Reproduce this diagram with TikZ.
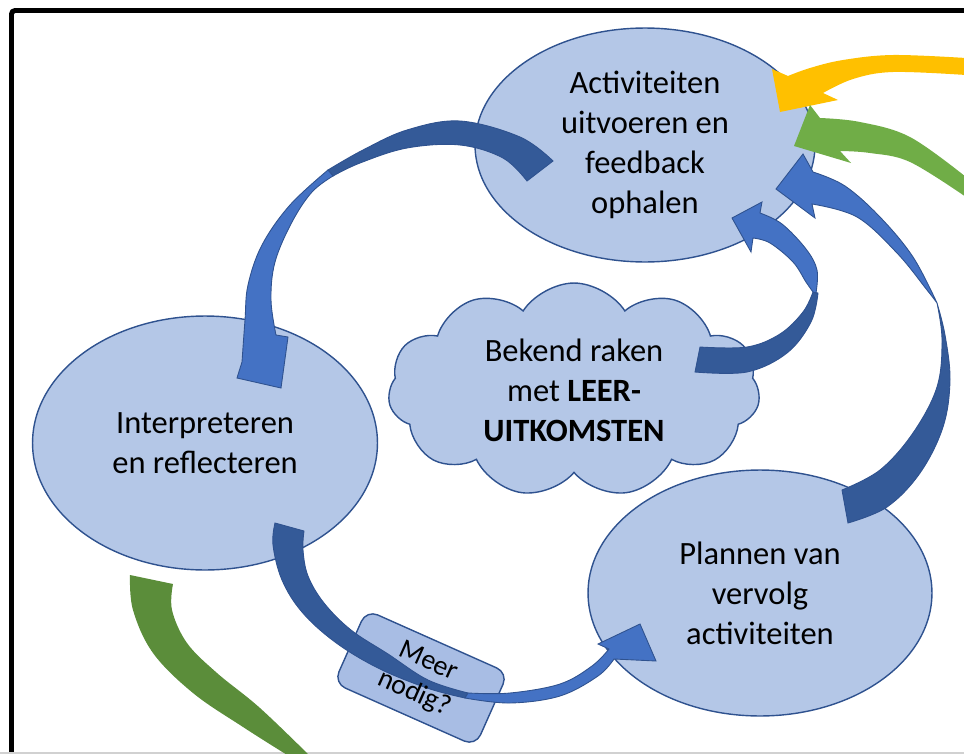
\documentclass[tikz,border=0pt]{standalone}
\usepackage{fontspec}
\setmainfont{Carlito}
\usetikzlibrary{shapes.geometric,shapes.symbols}
\definecolor{bubblefill}{RGB}{180,199,231}
\definecolor{bubbleline}{RGB}{47,82,143}
\definecolor{boxfill}{RGB}{168,189,228}
\definecolor{bandlight}{RGB}{68,114,196}
\definecolor{banddark}{RGB}{52,90,152}
\definecolor{bandyellow}{RGB}{255,192,0}
\definecolor{bandgreen}{RGB}{112,173,71}
\definecolor{bandgreendark}{RGB}{91,141,58}
\tikzset{
  stage/.style={ellipse,draw=bubbleline,line width=0.8pt,fill=bubblefill,
                align=center,inner sep=0pt,font=\fontsize{18.5}{22.7}\selectfont},
  idea/.style={cloud,cloud puffs=11,cloud puff arc=115,cloud ignores aspect,
               draw=bubbleline,line width=0.8pt,fill=bubblefill,
               align=center,inner sep=0pt,font=\fontsize{18.5}{22.7}\selectfont},
  askbox/.style={draw=bubbleline,line width=0.8pt,fill=boxfill,rounded corners=7pt,
                 minimum width=3.1cm,minimum height=1.6cm,rotate=-24},
  asktext/.style={align=center,inner sep=0pt,font=\fontsize{16}{19.5}\selectfont,rotate=-24},
  front/.style={fill=bandlight,draw=bubbleline,line width=0.5pt},
  back/.style={fill=banddark,draw=bubbleline,line width=0.5pt},
  frame/.style={black,line width=2.8pt,rounded corners=2pt},
}
\begin{document}
\begin{tikzpicture}[x=0.02cm,y=-0.02cm]
  \path[use as bounding box] (0,0) rectangle (964,754);
  \draw[frame] (11.5,756) -- (11.5,10.5) -- (966,10.5);
  \draw[black!18,line width=1pt] (0,753) -- (964,753);

  \node[stage,minimum width=6.8cm,minimum height=4.68cm] (doen) at (645,145)
    {Activiteiten\\uitvoeren en\\feedback\\ophalen};
  \node[stage,minimum width=6.9cm,minimum height=5.08cm] (reflect) at (205,443)
    {Interpreteren\\en reflecteren};
  \node[stage,minimum width=6.88cm,minimum height=4.92cm] (plan) at (760,593)
    {Plannen van\\vervolg\\activiteiten};
  \node[idea,minimum width=7.44cm,minimum height=4.28cm] (leer) at (574,390)
    {Bekend raken\\met \textbf{LEER-}\\\textbf{UITKOMSTEN}};
  \node[askbox] (meer) at (421,678) {};

  % doen -> reflect
  \path[back] plot[smooth,tension=0.6] coordinates {(553,161) (520,137) (460,121) (407,130) (363,150) (328,170)}
    -- plot[smooth,tension=0.6] coordinates {(333,176) (360,163) (407,148) (460,145) (503,158) (527,181)} -- cycle;
  \path[front] plot[smooth,tension=0.6] coordinates {(328,170) (290,205) (262,245) (248,285) (245,320) (242,362)}
    -- (237,378) -- (281,388) -- (288,337)
    -- plot[smooth,tension=0.6] coordinates {(276,335) (271,300) (275,262) (292,222) (312,192) (333,176)} -- cycle;

  % reflect -> plan
  \path[back] plot[smooth,tension=0.6] coordinates {(275,523) (273,545) (282,580) (302,612) (335,642) (378,668) (427,688) (465,698)}
    -- plot[smooth,tension=0.6] coordinates {(468,693) (428,680) (388,654) (351,630) (324,603) (308,576) (303,550) (304,531)} -- cycle;
  \path[front] plot[smooth,tension=0.6] coordinates {(465,698) (510,703) (560,696) (598,676) (614,659)}
    -- (656,661) -- (640,624) -- (598,644)
    -- plot[smooth,tension=0.6] coordinates {(609,649) (592,666) (560,684) (510,693) (468,693)} -- cycle;
  \node[asktext] (meertext) at (meer.center) {Meer\\nodig?};

  % plan -> doen
  \path[back] plot[smooth,tension=0.6] coordinates {(848,523) (887,507) (920,473) (943,427) (950,380) (945,335) (937,303)}
    -- plot[smooth,tension=0.6] coordinates {(937,303) (942,340) (937,387) (913,433) (880,470) (842,490)} -- cycle;
  \path[front] plot[smooth,tension=0.6] coordinates {(937,303) (913,257) (880,217) (845,186) (813,172)}
    -- (803,154) -- (776,189) -- (815,218)
    -- plot[smooth,tension=0.6] coordinates {(812,204) (857,217) (897,253) (927,290) (937,303)} -- cycle;

  % leer -> doen
  \path[back] plot[smooth,tension=0.6] coordinates {(700,347) (747,347) (780,334) (803,312) (813,292)}
    -- plot[smooth,tension=0.6] coordinates {(818,293) (811,322) (787,353) (747,372) (695,372)} -- cycle;
  \path[front] plot[smooth,tension=0.6] coordinates {(816,293) (817,270) (806,249) (782,224) (760,213)}
    -- (762,202) -- (732,218) -- (751,252)
    -- plot[smooth,tension=0.6] coordinates {(753,238) (770,243) (793,262) (806,282) (813,292)} -- cycle;

  % incoming from outside
  \fill[bandyellow] plot[smooth,tension=0.6] coordinates {(966,58) (893,55) (843,60) (810,68) (788,76)}
    -- (772,69) -- (780,112) -- (838,100)
    -- plot[smooth,tension=0.6] coordinates {(823,93) (853,79) (893,72) (966,75)} -- cycle;
  \fill[bandgreen] plot[smooth,tension=0.6] coordinates {(966,177) (910,137) (860,122) (820,118)}
    -- (810,105) -- (794,146) -- (851,163)
    -- plot[smooth,tension=0.6] coordinates {(840,151) (870,153) (910,162) (966,197)} -- cycle;
  \fill[bandgreendark] plot[smooth,tension=0.6] coordinates {(130,575) (133,610) (153,653) (193,693) (243,727) (292,758)}
    -- plot[smooth,tension=0.6] coordinates {(312,758) (260,708) (217,673) (187,643) (172,610) (173,584)} -- cycle;
\end{tikzpicture}
\end{document}
